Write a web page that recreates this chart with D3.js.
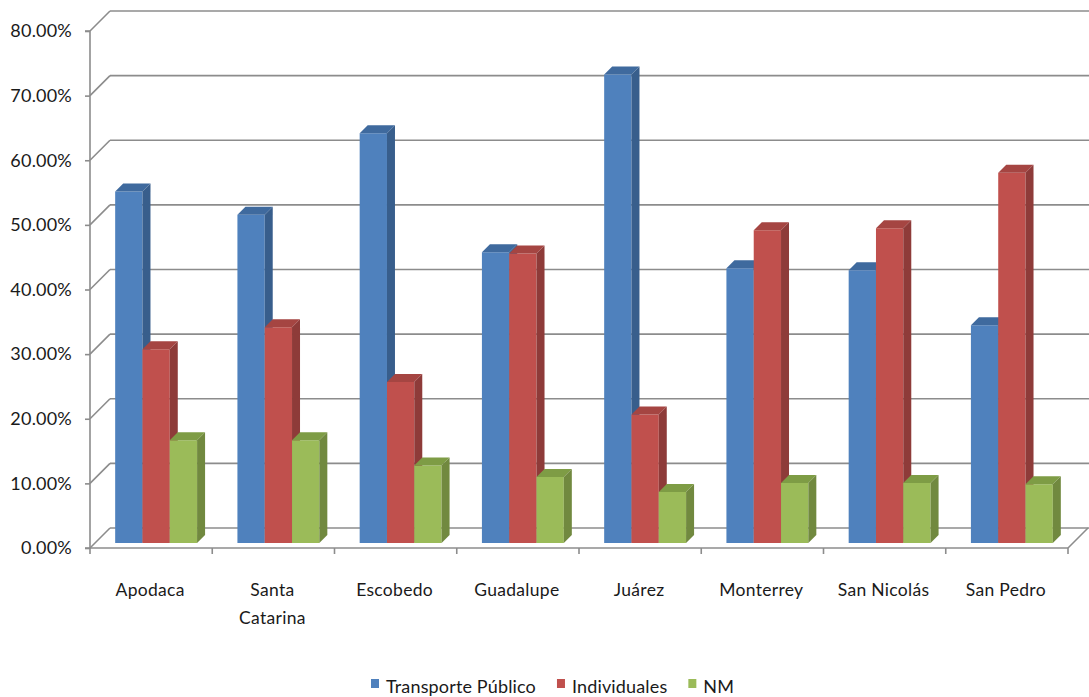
<!DOCTYPE html>
<html><head><meta charset="utf-8">
<script src="https://cdn.jsdelivr.net/npm/d3@7"></script>
<style>
html,body{margin:0;padding:0;background:#fff;}
svg{display:block;}
text{font-family:Lato,"Open Sans",sans-serif;fill:#1a1a1a;}
</style></head>
<body>
<svg id="chart" width="1089" height="697"></svg>
<script>
const categories = [["Apodaca"],["Santa","Catarina"],["Escobedo"],["Guadalupe"],["Juárez"],["Monterrey"],["San Nicolás"],["San Pedro"]];
const seriesNames = ["Transporte Público","Individuales","NM"];
const transportePublico = [0.544, 0.508, 0.634, 0.450, 0.725, 0.425, 0.422, 0.337];
const individuales      = [0.300, 0.334, 0.249, 0.448, 0.199, 0.484, 0.487, 0.573];
const nm                = [0.159, 0.159, 0.120, 0.102, 0.079, 0.093, 0.093, 0.091];
const yTicks = [0, 0.1, 0.2, 0.3, 0.4, 0.5, 0.6, 0.7, 0.8];
const colors = {front:["#4F81BD","#C0504D","#9BBB59"], side:["#385E8C","#8E3B39","#71893F"], top:["#3F6A9E","#A54542","#7E9C45"]};

const svg = d3.select("#chart");
const catKeys = categories.map(c => c.join(" "));
const x0 = 90, x1 = 1068, yBase = 548, yTop = 31;
const wallD = 20;   // back wall offset
const barOff = 5;   // bar front offset into depth
const barD = 8;     // bar depth

const y = d3.scaleLinear().domain([0, 0.8]).range([yBase, yTop]);
const xCat = d3.scaleBand().domain(catKeys).range([x0, x1]).paddingInner(0.33).paddingOuter(0.165);
const xSer = d3.scaleBand().domain(seriesNames).range([0, xCat.bandwidth()]);

const gridColor = "#8c8c8c";
const g = svg.append("g");

// back wall gridlines
g.selectAll("line.grid").data(yTicks).join("line")
  .attr("x1", x0 + wallD).attr("x2", 1089)
  .attr("y1", d => y(d) - wallD).attr("y2", d => y(d) - wallD)
  .attr("stroke", gridColor).attr("stroke-width", 1.6);
// side wall diagonals
g.selectAll("line.diag").data(yTicks).join("line")
  .attr("x1", x0).attr("x2", x0 + wallD)
  .attr("y1", d => y(d)).attr("y2", d => y(d) - wallD)
  .attr("stroke", gridColor).attr("stroke-width", 1.6);
// front vertical axis
const yAxis = d3.axisLeft(y).tickValues(yTicks).tickFormat(d3.format(".2%")).tickSize(5).tickPadding(13);
const ya = svg.append("g").attr("transform", `translate(${x0},0)`).call(yAxis);
ya.select(".domain").attr("stroke", gridColor).attr("stroke-width", 1.6).attr("d", `M-5,${yBase}H0V${yTop}H-5`);
ya.selectAll(".tick line").attr("stroke", gridColor).attr("stroke-width", 1.6);
ya.selectAll(".tick text").style("font-size", "18px").style("letter-spacing", "0.2px").attr("fill", "#1a1a1a").style("font-family", "Lato");

// floor front edge and right diagonal
g.append("line").attr("x1", x0).attr("x2", x1).attr("y1", yBase).attr("y2", yBase).attr("stroke", gridColor).attr("stroke-width", 1.6);
g.append("line").attr("x1", x1).attr("x2", x1 + wallD).attr("y1", yBase).attr("y2", yBase - wallD).attr("stroke", gridColor).attr("stroke-width", 1.6);
const step = xCat.step();
const bounds = d3.range(categories.length + 1).map(i => x0 + i * step);
g.selectAll("line.ctick").data(bounds).join("line")
  .attr("x1", d => d).attr("x2", d => d).attr("y1", yBase).attr("y2", yBase + 6)
  .attr("stroke", gridColor).attr("stroke-width", 1.6);

// bars
const series = [transportePublico, individuales, nm];
const bars = svg.append("g");
catKeys.forEach((cat, ci) => {
  series.forEach((vals, si) => {
    const v = vals[ci];
    const xl = xCat(cat) + xSer(seriesNames[si]) + barOff;
    const xr = xl + xSer.bandwidth();
    const yb = y(0) - barOff;
    const yt = y(v) - barOff;
    bars.append("path").attr("d", `M${xl},${yb}V${yt}H${xr}V${yb}Z`).attr("fill", colors.front[si]);
    bars.append("path").attr("d", `M${xl},${yt}L${xl+barD},${yt-barD}H${xr+barD}L${xr},${yt}Z`).attr("fill", colors.top[si]);
    bars.append("path").attr("d", `M${xr},${yt}L${xr+barD},${yt-barD}V${yb-barD}L${xr},${yb}Z`).attr("fill", colors.side[si]);
  });
});

// category labels
const lab = svg.append("g");
categories.forEach((lines, ci) => {
  const cx = xCat(catKeys[ci]) + xCat.bandwidth() / 2 - 1;
  const t = lab.append("text").attr("text-anchor", "middle").attr("x", cx).attr("y", 596)
    .style("font-size", "17.5px").style("letter-spacing", "0.3px");
  lines.forEach((ln, li) => t.append("tspan").attr("x", cx).attr("dy", li === 0 ? 0 : 28).text(ln));
});

// legend
const leg = svg.append("g");
let lx = 371;
seriesNames.forEach((name, si) => {
  leg.append("rect").attr("x", lx).attr("y", 679).attr("width", 8).attr("height", 9).attr("fill", colors.front[si]);
  const t = leg.append("text").attr("x", lx + 15).attr("y", 693).style("font-size", "18px").style("letter-spacing", "0.15px").text(name);
  lx += 15 + t.node().getComputedTextLength() + 21;
});
</script>
</body></html>
